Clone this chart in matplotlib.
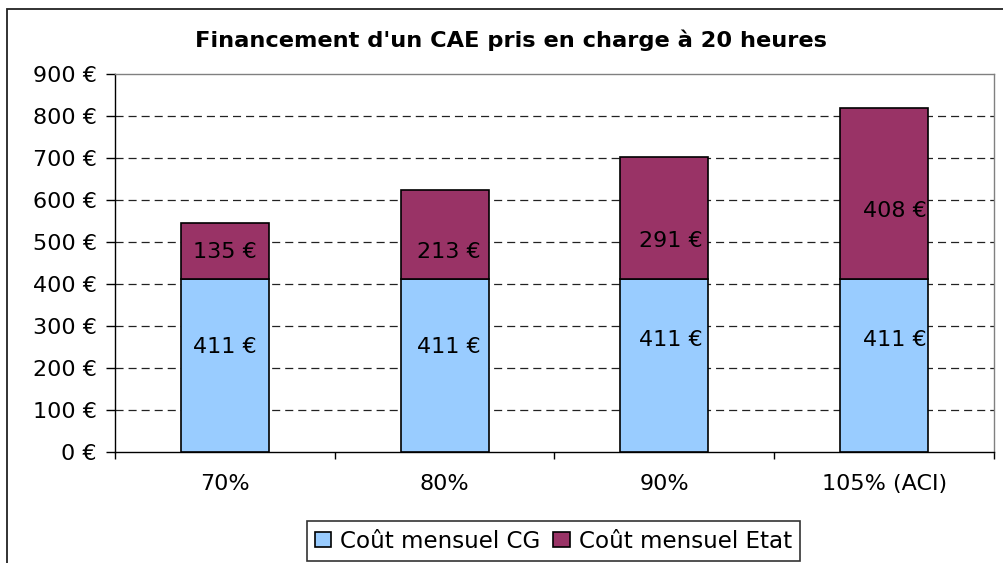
import matplotlib
matplotlib.use("Agg")
import matplotlib.pyplot as plt
from matplotlib.patches import Rectangle

# ---- data ----
categories = ["70%", "80%", "90%", "105% (ACI)"]
cout_cg = [411, 411, 411, 411]
cout_etat = [135, 213, 291, 408]
series_names = ["Coût mensuel CG", "Coût mensuel Etat"]
yticks = [0, 100, 200, 300, 400, 500, 600, 700, 800, 900]
title = "Financement d'un CAE pris en charge à 20 heures"

# ---- layout (label placement, as in the original Excel rendering) ----
lab_y_cg = [250, 250, 267, 267]
lab_y_etat = [476, 476, 502, 574]
lab_dx = [0, 4, 6, 11]  # px offset

plt.rcParams["font.family"] = ["DejaVu Sans"]
plt.rcParams["lines.scale_dashes"] = False

W, H = 1004, 563
fig = plt.figure(figsize=(W / 100, H / 100), dpi=100)
fig.patch.set_facecolor("white")

left, right, top, bottom = 115, 994, 74, 452
ax = fig.add_axes([left / W, 1 - bottom / H, (right - left) / W, (bottom - top) / H])

x = list(range(len(categories)))
c_cg = "#99CCFF"
c_et = "#993366"
ax.bar(x, cout_cg, width=0.4, color=c_cg, edgecolor="black", linewidth=1.2,
       label=series_names[0], zorder=3)
ax.bar(x, cout_etat, width=0.4, bottom=cout_cg, color=c_et, edgecolor="black",
       linewidth=1.2, label=series_names[1], zorder=3)

fs = 16
for i in x:
    ax.annotate(f"{cout_cg[i]} €", xy=(i, lab_y_cg[i]), xytext=(lab_dx[i] * 0.72, 0),
                textcoords="offset points", ha="center", va="center", fontsize=fs,
                color="black", zorder=4)
    ax.annotate(f"{cout_etat[i]} €", xy=(i, lab_y_etat[i]), xytext=(lab_dx[i] * 0.72, 0),
                textcoords="offset points", ha="center", va="center", fontsize=fs,
                color="black", zorder=4)

ax.set_xlim(-0.5, len(categories) - 0.5)
ax.set_ylim(0, 900)
ax.set_yticks(yticks)
ax.set_yticklabels([f"{v} €" for v in yticks], fontsize=fs)
ax.tick_params(axis="y", direction="out", length=6.5, width=1, pad=6.5, colors="black")

ax.set_xticks(x)
ax.set_xticklabels(categories, fontsize=fs)
ax.tick_params(axis="x", which="major", length=0, pad=16)
ax.set_xticks([i - 0.5 for i in range(len(categories) + 1)], minor=True)
ax.tick_params(axis="x", which="minor", direction="out", length=5, width=1, color="black")

for v in yticks[1:-1]:
    ax.axhline(v, color="#222222", linewidth=0.9, dashes=(5.8, 3.6), zorder=1)

ax.spines["left"].set_color("black")
ax.spines["bottom"].set_color("black")
ax.spines["top"].set_color("#808080")
ax.spines["right"].set_color("#808080")
for s in ax.spines.values():
    s.set_linewidth(1.0)

fig.text(511 / W, 1 - 40 / H, title, ha="center", va="center", fontsize=16.2,
         fontweight="bold")

leg = fig.legend(loc="center", bbox_to_anchor=(553.5 / W, 1 - 541 / H), ncol=2,
                 fontsize=16.6, frameon=True, fancybox=False, shadow=False,
                 handlelength=0.7, handleheight=0.62, handletextpad=0.4,
                 columnspacing=0.55, borderpad=0.36, borderaxespad=0)
leg.get_frame().set_edgecolor("black")
leg.get_frame().set_linewidth(1.2)

fig.add_artist(Rectangle((7 / W, -0.1), 1.2, 1.1 - 9 / H, transform=fig.transFigure,
                         fill=False, edgecolor="#222222", linewidth=1.3))

fig.savefig("out.png", dpi=100)
